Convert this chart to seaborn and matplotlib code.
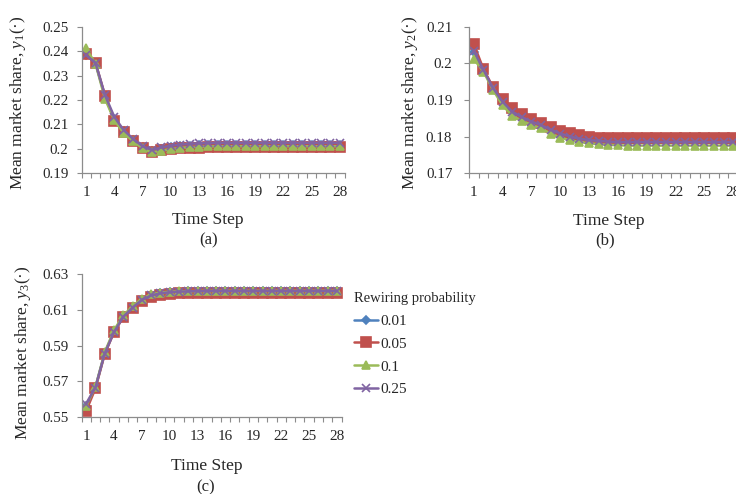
import matplotlib
matplotlib.use("Agg")
import matplotlib.pyplot as plt
import seaborn as sns
from matplotlib.ticker import FixedLocator, MultipleLocator

# ---- data -------------------------------------------------------------
steps = list(range(1, 29))
rewiring = ["0.01", "0.05", "0.1", "0.25"]

# panel (a): mean market share y1
y1_p001 = [0.2386, 0.2350, 0.2214, 0.2122, 0.2072, 0.2036, 0.2008, 0.1990, 0.2000, 0.2006,
           0.2010, 0.2012, 0.2014, 0.2015, 0.2016, 0.2016, 0.2016, 0.2016, 0.2016, 0.2016,
           0.2016, 0.2016, 0.2016, 0.2016, 0.2016, 0.2016, 0.2016, 0.2016]
y1_p005 = [0.2390, 0.2352, 0.2218, 0.2115, 0.2068, 0.2032, 0.2004, 0.1988, 0.1993, 0.1998,
           0.2001, 0.2003, 0.2004, 0.2005, 0.2005, 0.2005, 0.2005, 0.2005, 0.2005, 0.2005,
           0.2005, 0.2005, 0.2005, 0.2005, 0.2005, 0.2005, 0.2005, 0.2005]
y1_p010 = [0.2412, 0.2348, 0.2205, 0.2116, 0.2064, 0.2030, 0.2002, 0.1985, 0.1992, 0.1998,
           0.2003, 0.2006, 0.2008, 0.2009, 0.2010, 0.2010, 0.2010, 0.2010, 0.2010, 0.2010,
           0.2010, 0.2010, 0.2010, 0.2010, 0.2010, 0.2010, 0.2010, 0.2010]
y1_p025 = [0.2385, 0.2351, 0.2220, 0.2130, 0.2076, 0.2040, 0.2010, 0.1995, 0.2005, 0.2012,
           0.2017, 0.2020, 0.2022, 0.2023, 0.2024, 0.2024, 0.2024, 0.2024, 0.2024, 0.2024,
           0.2024, 0.2024, 0.2024, 0.2024, 0.2024, 0.2024, 0.2024, 0.2024]

# panel (b): mean market share y2
y2_p001 = [0.2032, 0.1982, 0.1932, 0.1893, 0.1866, 0.1852, 0.1840, 0.1830, 0.1818, 0.1807,
           0.1799, 0.1793, 0.1789, 0.1787, 0.1785, 0.1784, 0.1784, 0.1784, 0.1784, 0.1784,
           0.1784, 0.1784, 0.1784, 0.1784, 0.1784, 0.1784, 0.1784, 0.1784]
y2_p005 = [0.2053, 0.1985, 0.1935, 0.1902, 0.1878, 0.1861, 0.1848, 0.1838, 0.1827, 0.1816,
           0.1809, 0.1803, 0.1800, 0.1797, 0.1796, 0.1795, 0.1795, 0.1795, 0.1795, 0.1795,
           0.1795, 0.1795, 0.1795, 0.1795, 0.1795, 0.1795, 0.1795, 0.1795]
y2_p010 = [0.2012, 0.1978, 0.1928, 0.1885, 0.1857, 0.1843, 0.1832, 0.1822, 0.1808, 0.1797,
           0.1790, 0.1785, 0.1781, 0.1779, 0.1777, 0.1776, 0.1775, 0.1775, 0.1775, 0.1775,
           0.1775, 0.1775, 0.1775, 0.1775, 0.1775, 0.1775, 0.1775, 0.1775]
y2_p025 = [0.2035, 0.1983, 0.1933, 0.1895, 0.1868, 0.1853, 0.1841, 0.1831, 0.1819, 0.1808,
           0.1800, 0.1794, 0.1790, 0.1788, 0.1786, 0.1785, 0.1785, 0.1785, 0.1785, 0.1785,
           0.1785, 0.1785, 0.1785, 0.1785, 0.1785, 0.1785, 0.1785, 0.1785]

# panel (c): mean market share y3
y3_p001 = [0.5560, 0.5665, 0.5858, 0.5978, 0.6062, 0.6114, 0.6156, 0.6180, 0.6192, 0.6198,
           0.6201, 0.6203, 0.6204, 0.6205, 0.6205, 0.6205, 0.6205, 0.6205, 0.6205, 0.6205,
           0.6205, 0.6205, 0.6205, 0.6205, 0.6205, 0.6205, 0.6205, 0.6205]
y3_p005 = [0.5534, 0.5660, 0.5852, 0.5975, 0.6058, 0.6108, 0.6150, 0.6172, 0.6183, 0.6188,
           0.6191, 0.6193, 0.6194, 0.6195, 0.6195, 0.6195, 0.6195, 0.6195, 0.6195, 0.6195,
           0.6195, 0.6195, 0.6195, 0.6195, 0.6195, 0.6195, 0.6195, 0.6195]
y3_p010 = [0.5562, 0.5668, 0.5862, 0.5986, 0.6068, 0.6120, 0.6162, 0.6186, 0.6196, 0.6201,
           0.6203, 0.6204, 0.6205, 0.6206, 0.6206, 0.6206, 0.6206, 0.6206, 0.6206, 0.6206,
           0.6206, 0.6206, 0.6206, 0.6206, 0.6206, 0.6206, 0.6206, 0.6206]
y3_p025 = [0.5575, 0.5665, 0.5855, 0.5975, 0.6060, 0.6112, 0.6155, 0.6180, 0.6192, 0.6198,
           0.6201, 0.6203, 0.6204, 0.6205, 0.6205, 0.6205, 0.6205, 0.6205, 0.6205, 0.6205,
           0.6205, 0.6205, 0.6205, 0.6205, 0.6205, 0.6205, 0.6205, 0.6205]

y1_ticks = [0.19, 0.2, 0.21, 0.22, 0.23, 0.24, 0.25]
y1_labels = ["0.19", "0.2", "0.21", "0.22", "0.23", "0.24", "0.25"]
y2_ticks = [0.17, 0.18, 0.19, 0.2, 0.21]
y2_labels = ["0.17", "0.18", "0.19", "0.2", "0.21"]
y3_ticks = [0.55, 0.57, 0.59, 0.61, 0.63]
y3_labels = ["0.55", "0.57", "0.59", "0.61", "0.63"]
x_labels = [1, 4, 7, 10, 13, 16, 19, 22, 25, 28]

# ---- style ------------------------------------------------------------
sns.set_style("ticks")
plt.rcParams["font.family"] = ["Liberation Serif", "DejaVu Serif"]
plt.rcParams["mathtext.fontset"] = "custom"
plt.rcParams["mathtext.rm"] = "Liberation Serif"
plt.rcParams["mathtext.it"] = "Liberation Serif:italic"
plt.rcParams["mathtext.bf"] = "Liberation Serif:bold"

colors = ["#4F81BD", "#C0504D", "#9BBB59", "#8064A2"]
markers = ["D", "s", "^", "x"]
msizes = [4.2, 6.5, 6.2, 5.5]
axis_grey = "#8C8C8C"

fig = plt.figure(figsize=(7.36, 4.94), dpi=100)
W, H = 736.0, 494.0


def place(x0, x1, ytop, ybot):
    return [x0 / W, 1 - ybot / H, (x1 - x0) / W, (ybot - ytop) / H]


ax_a = fig.add_axes(place(81.5, 344.5, 27, 173))
ax_b = fig.add_axes(place(469.0, 738.0, 27, 173))
ax_c = fig.add_axes(place(81.5, 341.5, 274, 417))

panels = [
    (ax_a, [y1_p001, y1_p005, y1_p010, y1_p025], y1_ticks, y1_labels, "1"),
    (ax_b, [y2_p001, y2_p005, y2_p010, y2_p025], y2_ticks, y2_labels, "2"),
    (ax_c, [y3_p001, y3_p005, y3_p010, y3_p025], y3_ticks, y3_labels, "3"),
]

for ax, series, yt, ytl, idx in panels:
    for vals, lab, c, m, ms in zip(series, rewiring, colors, markers, msizes):
        sns.lineplot(x=steps, y=vals, ax=ax, color=c, marker=m, markersize=ms,
                     markeredgecolor=c, markeredgewidth=1.2, linewidth=1.8,
                     label=lab, legend=False)
    ax.set_xlim(0.5, 28.5)
    ax.set_ylim(yt[0], yt[-1])
    ax.yaxis.set_major_locator(FixedLocator(yt))
    ax.set_yticklabels(ytl)
    ax.xaxis.set_major_locator(FixedLocator(x_labels))
    ax.set_xticklabels([str(v) for v in x_labels])
    ax.xaxis.set_minor_locator(MultipleLocator(1.0, offset=0.5))
    ax.tick_params(axis="x", which="major", length=0, pad=9.5, labelsize=11)
    ax.tick_params(axis="x", which="minor", length=3.5, width=0.8, color=axis_grey,
                   direction="out")
    ax.tick_params(axis="y", which="major", length=3.5, width=0.8, color=axis_grey,
                   direction="out", pad=6, labelsize=10.8)
    for side in ("top", "right"):
        ax.spines[side].set_visible(False)
    for side in ("left", "bottom"):
        ax.spines[side].set_color(axis_grey)
        ax.spines[side].set_linewidth(0.9)
    ax.set_xlabel("Time Step", fontsize=12.5)
    ax.set_ylabel("Mean market share, $y_{" + idx + "}$(·)", fontsize=12.5)

ax_a.xaxis.set_label_coords(0.48, -0.27)
ax_a.yaxis.set_label_coords(-0.203, 0.48)
ax_b.xaxis.set_label_coords(0.52, -0.276)
ax_b.yaxis.set_label_coords(-0.182, 0.48)
ax_b.tick_params(axis="y", pad=8.5)
ax_c.xaxis.set_label_coords(0.481, -0.289)
ax_c.yaxis.set_label_coords(-0.187, 0.45)

fig.text(209 / W, 1 - 240 / H, "(a)", ha="center", va="center", fontsize=12)
fig.text(605 / W, 1 - 240 / H, "(b)", ha="center", va="center", fontsize=12)
fig.text(206 / W, 1 - 487 / H, "(c)", ha="center", va="center", fontsize=12)

handles, labels = ax_c.get_legend_handles_labels()
leg = fig.legend(handles, labels, title="Rewiring probability", loc="upper left",
                 bbox_to_anchor=(354 / W, 1 - 292 / H), frameon=False,
                 fontsize=11, title_fontsize=10.5, handlelength=1.6,
                 handletextpad=0.1, labelspacing=0.6, borderpad=0, borderaxespad=0)
leg._legend_box.align = "left"

fig.savefig("out.png", dpi=100)
